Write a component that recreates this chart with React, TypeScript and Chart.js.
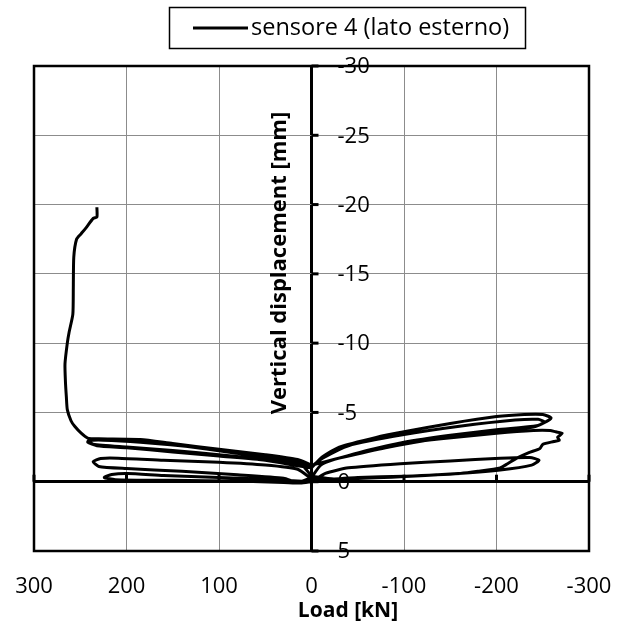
import React, { useEffect, useRef } from "react";
import { Chart, registerables } from "chart.js";

Chart.register(...registerables);

// Load [kN] vs vertical displacement [mm], per cycle
const cycle1Left: [number, number][] = [
  [0, 0], [40, -0.15], [100, -0.3], [160, -0.45], [199, -0.6], [216, -0.52], [224, -0.3],
  [212, -0.15], [150, -0.1], [80, -0.05], [30, 0.05], [12, 0.1], [0, 0],
];
const cycle1Right: [number, number][] = [
  [0, 0], [-15, -0.6], [-40, -1.0], [-96, -1.3], [-150, -1.5], [-204, -1.7], [-236, -1.75],
  [-246, -1.55], [-238, -1.2], [-204, -0.85], [-150, -0.55], [-96, -0.35], [-40, -0.2], [0, -0.2],
];
const cycle2Left: [number, number][] = [
  [0, -0.2], [15, -0.9], [50, -1.2], [100, -1.4], [160, -1.55], [209, -1.7], [228, -1.68],
  [236, -1.45], [230, -1.1], [200, -0.95], [140, -0.75], [80, -0.5], [30, -0.25], [15, 0.05], [0, -0.3],
];
const cycle2Right: [number, number][] = [
  [0, -0.3], [-10, -1.2], [-24, -1.6], [-60, -2.2], [-100, -2.75], [-140, -3.1], [-200, -3.5],
  [-240, -3.7], [-258, -3.7], [-264, -3.6], [-271, -3.5], [-266, -3.2], [-268, -3.0], [-262, -2.9],
  [-250, -2.7], [-247, -2.4], [-235, -2.1], [-222, -1.7], [-212, -1.3], [-204, -1.0], [-180, -0.75],
  [-161, -0.6], [-100, -0.4], [-50, -0.3], [-24, -0.2], [0, -0.4],
];
const cycle3Left: [number, number][] = [
  [0, -0.4], [12, -1.3], [40, -1.7], [87, -2.1], [140, -2.6], [185, -2.95], [220, -3.05],
  [240, -3.05], [242, -2.85], [232, -2.6], [200, -2.45], [150, -2.15], [100, -1.85], [50, -1.55],
  [15, -1.15], [0, -1.0],
];
const cycle3Right: [number, number][] = [
  [0, -1.0], [-12, -1.8], [-30, -2.5], [-70, -3.2], [-100, -3.6], [-150, -4.2], [-200, -4.7],
  [-230, -4.85], [-250, -4.85], [-259, -4.6], [-250, -4.2], [-240, -4.0], [-200, -3.75],
  [-150, -3.35], [-100, -2.85], [-60, -2.25], [-24, -1.6], [0, -1.2],
];
const cycle4Left: [number, number][] = [
  [0, -1.2], [15, -1.5], [60, -1.95], [120, -2.45], [185, -2.85], [225, -3.0], [240, -2.95],
  [236, -2.7], [200, -2.5], [150, -2.25], [100, -1.95], [50, -1.6], [12, -1.3], [0, -1.1],
];
const cycle4Right: [number, number][] = [
  [0, -1.1], [-12, -1.7], [-40, -2.6], [-100, -3.4], [-160, -4.0], [-220, -4.45], [-245, -4.5],
  [-252, -4.3], [-240, -3.95], [-200, -3.7], [-140, -3.15], [-80, -2.45], [-30, -1.7], [0, -1.2],
];
const finalLeft: [number, number][] = [
  [0, -1.2], [15, -1.6], [50, -1.95], [100, -2.35], [150, -2.75], [185, -3.05], [230, -3.1],
  [242, -3.15], [249, -3.5], [256, -4.0], [260, -4.4], [264, -5.2], [265, -6.1], [266, -7.2],
  [266.5, -8.5], [264, -10], [262, -10.8], [258, -12.1], [257.5, -14], [257, -16.2], [254, -17.5],
  [249, -17.9], [244, -18.3], [236, -19.0], [232, -19.1], [232, -19.8],
];

const xTicks = [300, 200, 100, 0, -100, -200, -300];
const yTicks = [-30, -25, -20, -15, -10, -5, 0, 5];
const seriesLabel = "sensore 4 (lato esterno)";
const xTitle = "Load [kN]";
const yTitle = "Vertical displacement [mm]";

const FONT = '"Open Sans", "Liberation Sans", sans-serif';

const customPlugin = {
  id: "customAxes",
  afterDraw(chart: any) {
    const { ctx, chartArea } = chart;
    const xs = chart.scales.x;
    const ys = chart.scales.y;
    const x0 = xs.getPixelForValue(0);
    const y0 = ys.getPixelForValue(0);
    ctx.save();
    // plot border
    ctx.strokeStyle = "#000";
    ctx.lineWidth = 2.5;
    ctx.strokeRect(chartArea.left, chartArea.top, chartArea.right - chartArea.left, chartArea.bottom - chartArea.top);
    // tick marks on y axis at x=0
    ctx.lineWidth = 3;
    ys.ticks.forEach((t: any) => {
      const py = ys.getPixelForValue(t.value);
      ctx.beginPath();
      ctx.moveTo(x0, py);
      ctx.lineTo(x0 + 7, py);
      ctx.stroke();
    });
    // tick marks on x axis at y=0
    xs.ticks.forEach((t: any) => {
      const px = xs.getPixelForValue(t.value);
      ctx.beginPath();
      ctx.moveTo(px, y0);
      ctx.lineTo(px, y0 - 7);
      ctx.stroke();
    });
    // y tick labels
    ctx.fillStyle = "#000";
    ctx.font = `22px ${FONT}`;
    ctx.textAlign = "left";
    ctx.textBaseline = "middle";
    ys.ticks.forEach((t: any) => {
      const py = ys.getPixelForValue(t.value);
      ctx.fillText(String(t.value), x0 + 26, py + 1);
    });
    // x tick labels
    ctx.textAlign = "center";
    xs.ticks.forEach((t: any) => {
      const px = xs.getPixelForValue(t.value);
      ctx.fillText(String(t.value), px, chartArea.bottom + 36);
    });
    // x title
    ctx.font = `bold 21px ${FONT}`;
    ctx.fillText(xTitle, 348, 611);
    // y title
    ctx.save();
    ctx.translate(280, 263);
    ctx.rotate(-Math.PI / 2);
    ctx.font = `bold 22px ${FONT}`;
    ctx.fillText(yTitle, 0, 0);
    ctx.restore();
    // legend
    ctx.lineWidth = 1.5;
    ctx.strokeRect(169.5, 7.5, 356, 41);
    ctx.lineWidth = 3;
    ctx.beginPath();
    ctx.moveTo(193, 28);
    ctx.lineTo(248, 28);
    ctx.stroke();
    ctx.font = `23.5px ${FONT}`;
    ctx.textAlign = "left";
    ctx.fillText(seriesLabel, 251, 28);
    ctx.restore();
  },
};

export default function App() {
  const ref = useRef<HTMLCanvasElement>(null);
  useEffect(() => {
    if (!ref.current) return;
    const allPoints = [
      ...cycle1Left, ...cycle1Right, ...cycle2Left, ...cycle2Right,
      ...cycle3Left, ...cycle3Right, ...cycle4Left, ...cycle4Right, ...finalLeft,
    ].map(([x, y]) => ({ x, y }));
    const chart = new Chart(ref.current, {
      type: "scatter",
      data: {
        datasets: [
          {
            label: seriesLabel,
            data: allPoints,
            showLine: true,
            borderColor: "#000",
            borderWidth: 3,
            pointRadius: 0,
            tension: 0.2,
            fill: false,
          },
        ],
      },
      options: {
        animation: false,
        responsive: false,
        devicePixelRatio: 1,
        layout: { padding: { left: 34, right: 38, top: 66, bottom: 76 } },
        plugins: { legend: { display: false }, tooltip: { enabled: false } },
        scales: {
          x: {
            type: "linear",
            reverse: true,
            min: -300,
            max: 300,
            afterBuildTicks: (s: any) => { s.ticks = xTicks.map((v) => ({ value: v })); },
            ticks: { display: false },
            border: { display: false },
            grid: {
              drawTicks: false,
              color: (c: any) => (c.tick && c.tick.value === 0 ? "#000" : "#8c8c8c"),
              lineWidth: (c: any) => (c.tick && c.tick.value === 0 ? 3 : 1),
            },
          },
          y: {
            type: "linear",
            reverse: true,
            min: -30,
            max: 5,
            afterBuildTicks: (s: any) => { s.ticks = yTicks.map((v) => ({ value: v })); },
            ticks: { display: false },
            border: { display: false },
            grid: {
              drawTicks: false,
              color: (c: any) => (c.tick && c.tick.value === 0 ? "#000" : "#8c8c8c"),
              lineWidth: (c: any) => (c.tick && c.tick.value === 0 ? 3 : 1),
            },
          },
        },
      },
      plugins: [customPlugin],
    });
    return () => chart.destroy();
  }, []);
  return (
    <div style={{ position: "fixed", left: 0, top: 0, width: 627, height: 627, background: "#fff" }}>
      <canvas ref={ref} width={627} height={627} style={{ display: "block" }} />
    </div>
  );
}
